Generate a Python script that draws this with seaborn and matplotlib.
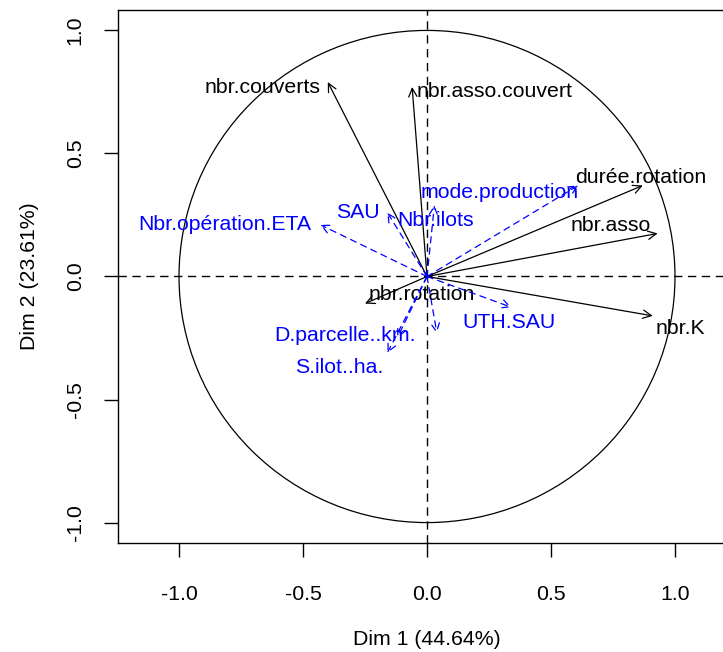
import numpy as np
import pandas as pd
import matplotlib
matplotlib.use("Agg")
import matplotlib.pyplot as plt
from matplotlib.patches import Circle
import seaborn as sns

# -----------------------------------------------------
# Data: PCA variable coordinates (Dim 1, Dim 2)
# -----------------------------------------------------
active_names = ["nbr.couverts", "nbr.asso.couvert", "durée.rotation",
                "nbr.asso", "nbr.K", "nbr.rotation"]
active_dim1 = [-0.40, -0.06, 0.87, 0.93, 0.91, -0.25]
active_dim2 = [0.79, 0.77, 0.37, 0.175, -0.16, -0.11]

sup_names = ["Nbr.opération.ETA", "SAU", "Nbr.ilots", "mode.production",
             "UTH.SAU", "D.parcelle..km.", "S.ilot..ha.", ""]
sup_dim1 = [-0.43, -0.16, 0.03, 0.61, 0.34, -0.12, -0.16, 0.04]
sup_dim2 = [0.21, 0.26, 0.29, 0.37, -0.125, -0.25, -0.31, -0.23]

dim1_label = "Dim 1 (44.64%)"
dim2_label = "Dim 2 (23.61%)"

active = pd.DataFrame({"name": active_names, "x": active_dim1, "y": active_dim2})
sup = pd.DataFrame({"name": sup_names, "x": sup_dim1, "y": sup_dim2})

# label offsets from arrow tip (pixels)
active_off = [(-65, -5), (82, -4), (-2, 8), (-47, 8), (28, -13), (57, 9)]
sup_off = [(-96, 0), (-29, 0), (1, -15), (-79, -7), (-2, -15), (-52, 3), (-48, -15), (0, 0)]

# -----------------------------------------------------
# Plot
# -----------------------------------------------------
sns.set_style("white")
plt.rcParams['font.family'] = ['Liberation Sans', 'DejaVu Sans']
plt.rcParams['axes.unicode_minus'] = False
plt.rcParams['text.color'] = 'black'
plt.rcParams['axes.labelcolor'] = 'black'

fig = plt.figure(figsize=(7.23, 6.52), dpi=100)
ax = fig.add_axes([118 / 723, 109 / 652, 618 / 723, 533 / 652])
ax.set_xlim(-1.246, 1.246)
ax.set_ylim(-1.083, 1.083)

# unit circle + axes lines
ax.add_patch(Circle((0, 0), 1, fill=False, color="black", lw=0.9))
ax.axhline(0, color="black", ls=(0, (6, 4)), lw=1)
ax.axvline(0, color="black", ls=(0, (6, 4)), lw=1)

fs = 15.3

for (_, r), off in zip(active.iterrows(), active_off):
    ax.annotate("", xy=(r.x, r.y), xytext=(0, 0),
                arrowprops=dict(arrowstyle="->", color="black", lw=0.9,
                                mutation_scale=15, shrinkA=0, shrinkB=0))
    ax.annotate(r["name"], xy=(r.x, r.y), xytext=off, textcoords="offset pixels",
                ha="center", va="center", fontsize=fs, color="black")

for (_, r), off in zip(sup.iterrows(), sup_off):
    ax.annotate("", xy=(r.x, r.y), xytext=(0, 0),
                arrowprops=dict(arrowstyle="->", color="blue", lw=0.9, ls=(0, (5, 4)),
                                mutation_scale=15, shrinkA=0, shrinkB=0))
    if r["name"]:
        ax.annotate(r["name"], xy=(r.x, r.y), xytext=off, textcoords="offset pixels",
                    ha="center", va="center", fontsize=fs, color="blue")

ticks = [-1.0, -0.5, 0.0, 0.5, 1.0]
ax.set_xticks(ticks)
ax.set_yticks(ticks)
ax.set_xticklabels([f"{t:.1f}" for t in ticks])
ax.set_yticklabels([f"{t:.1f}" for t in ticks], rotation=90, va="center")
ax.tick_params(axis="both", direction="out", length=10, width=1, labelsize=fs,
               colors="black", bottom=True, left=True)
ax.tick_params(axis="x", pad=20)
ax.tick_params(axis="y", pad=14)
for s in ax.spines.values():
    s.set_color("black")
    s.set_linewidth(1)

ax.set_xlabel(dim1_label, fontsize=fs, labelpad=19, color="black")
ax.set_ylabel(dim2_label, fontsize=fs, labelpad=19, color="black")

fig.savefig("out.png", dpi=100)
